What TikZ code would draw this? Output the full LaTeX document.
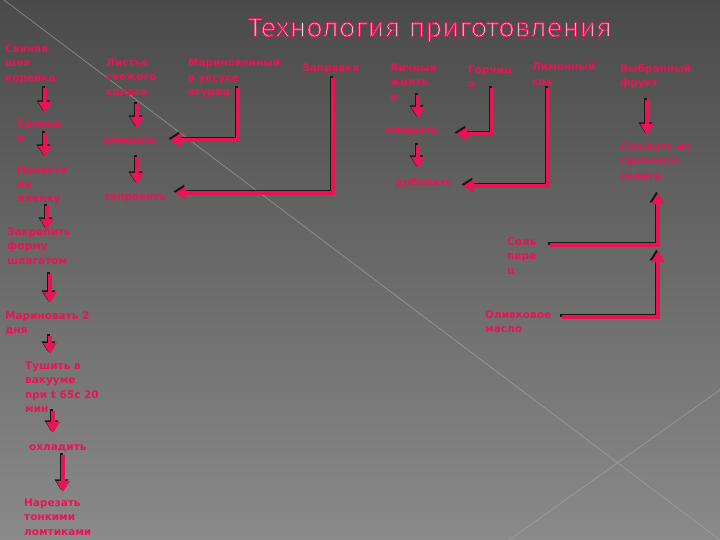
\documentclass[tikz,border=0pt]{standalone}
\usepackage{fontspec}
\usepackage{graphicx}
\usetikzlibrary{arrows.meta}
\newfontfamily\lblfont{DejaVu Sans}
\newfontfamily\titlefont{Fira Sans Light}
\definecolor{pk}{RGB}{232,20,86}
\definecolor{bgT}{HTML}{4A4A4A}
\definecolor{bgM}{HTML}{5E5E5E}
\definecolor{bgB}{HTML}{8A8A8A}
\definecolor{ln}{HTML}{A8A8A8}
\tikzset{
  lbl/.style={anchor=north west, inner sep=0pt, align=left, text=pk,
    font=\lblfont\bfseries\fontsize{10.5}{14.5}\selectfont,
    execute at begin node={\rule{0pt}{8pt}}},
  arr/.style={draw=pk, line width=3.4pt, -{Triangle[width=13pt,length=11pt]},
    preaction={draw=black!90, line width=3.4pt, -{Triangle[width=13pt,length=11pt]},
      transform canvas={shift={(-1.6,-1.6)}}}},
  deco/.style={line width=0.8pt, draw=ln, opacity=0.6},
}
\begin{document}
\begin{tikzpicture}[x=1pt,y=-1pt]
\useasboundingbox (0,0) rectangle (720,540);
\shade[top color=bgT, middle color=bgM, bottom color=bgB] (0,0) rectangle (720,540);
\draw[deco] (0,-3) -- (724,543);
\draw[deco] (724,387) -- (505,543);

% title
\node[anchor=base, inner sep=0pt, text=white] (title) at (430,36.5)
  {\resizebox{364pt}{18pt}{\special{pdf:literal direct 2 Tr 0.3 w 0.9 0.08 0.34 RG}\titlefont Технология приготовления\special{pdf:literal direct 0 Tr}}};

% left column
\node[lbl] (n1) at (5,44.5) {Свиная\\шея\\корейка};
\node[lbl] (n2) at (17,119.5) {Солени\\е};
\node[lbl] (n3) at (17,165.5) {Нанести\\на\\пленку};
\node[lbl] (n4) at (7,227.5) {Закрепить\\форму\\шпагатом};
\node[lbl] (n5) at (5,311.5) {Мариновать 2\\дня};
\node[lbl] (n6) at (25,361.5) {Тушить в\\вакууме\\при t 65с 20\\мин};
\node[lbl] (n7) at (29,442.5) {охладить};
\node[lbl] (n8) at (24,498.5) {Нарезать\\тонкими\\ломтиками};

\draw[arr] ([shift={(40,43.5)}]n1.north west) -- ([shift={(28,-6.5)}]n2.north west);
\draw[arr] ([shift={(28,13.5)}]n2.north west) -- ([shift={(28,-8.5)}]n3.north west);
\draw[arr] ([shift={(30,40.5)}]n3.north west) -- ([shift={(40,2.5)}]n4.north west);
\draw[arr] ([shift={(43,46.5)}]n4.north west) -- ([shift={(45,-8.5)}]n5.north west);
\draw[arr] ([shift={(45,24.5)}]n5.north west) -- ([shift={(25,-7.5)}]n6.north west);
\draw[arr] ([shift={(28,49.5)}]n6.north west) -- ([shift={(24,-9.5)}]n7.north west);
\draw[arr] ([shift={(34,12.5)}]n7.north west) -- ([shift={(39,-6.5)}]n8.north west);

% middle
\node[lbl] (m1) at (106,58.5) {Листья\\свежего\\салата};
\node[lbl] (m2) at (103,135.5) {смешать};
\node[lbl] (m3) at (104,192.5) {заправить};
\node[lbl] (c1) at (188,58.5) {Маринованный\\в уксусе\\огурец};
\node[lbl] (d1) at (302,63.5) {Заправка};

\draw[arr] ([shift={(31,45.5)}]m1.north west) -- ([shift={(34,-7.5)}]m2.north west);
\draw[arr] ([shift={(34,21.5)}]m2.north west) -- ([shift={(33,-8.5)}]m3.north west);
\draw[arr] ([shift={(50,29.5)}]c1.north west) |- ([shift={(67,4.5)}]m2.north west);
\draw[arr] ([shift={(31,14.5)}]d1.north west) |- ([shift={(71,0.5)}]m3.north west);

% right part
\node[lbl] (e1) at (390,63.5) {Яичные\\желтк\\и};
\node[lbl] (e2) at (385,125.5) {смешать};
\node[lbl] (e3) at (395,177.5) {добавить};
\node[lbl] (f1) at (468,65.5) {Горчиц\\а};
\node[lbl] (g1) at (532,62.5) {Лимонный\\сок};
\node[lbl] (h1) at (620,63.5) {Выбранный\\фрукт};
\node[lbl] (h2) at (620,142.5) {Сложить из\\сушеного\\салата};
\node[lbl] (i1) at (507,237.5) {Соль\\пере\\ц};
\node[lbl] (j1) at (485,310.5) {Оливковое\\масло};

\draw[arr] ([shift={(28,31.5)}]e1.north west) -- ([shift={(33,-7.5)}]e2.north west);
\draw[arr] ([shift={(33,19.5)}]e2.north west) -- ([shift={(23,-9.5)}]e3.north west);
\draw[arr] ([shift={(24,22.5)}]f1.north west) |- ([shift={(71,8.5)}]e2.north west);
\draw[arr] ([shift={(16,25.5)}]g1.north west) |- ([shift={(68,8.5)}]e3.north west);
\draw[arr] ([shift={(27,36.5)}]h1.north west) -- ([shift={(27,-7.5)}]h2.north west);
\draw[arr] ([shift={(43,7.5)}]i1.north west) -| ([shift={(38,50.5)}]h2.north west);
\draw[arr] ([shift={(77,6.5)}]j1.north west) -| ([shift={(38,108.5)}]h2.north west);
\end{tikzpicture}
\end{document}
